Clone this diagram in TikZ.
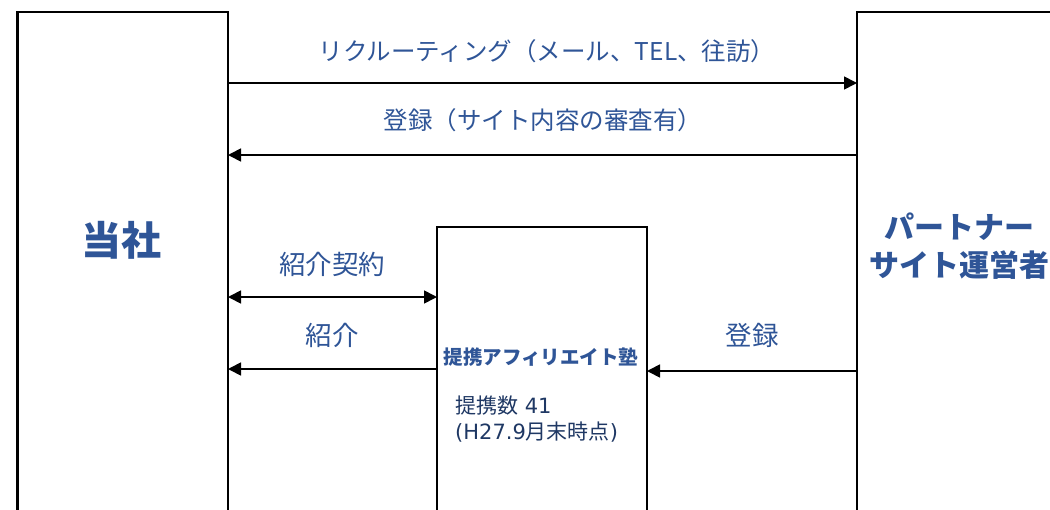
\documentclass[tikz,border=0pt]{standalone}
\usepackage{fontspec}
\setmainfont{Noto Sans CJK JP}
\newfontfamily\lat{DejaVu Sans}
\usetikzlibrary{arrows.meta}
\definecolor{txtblue}{HTML}{2F5597}
\definecolor{darkblue}{HTML}{1F3864}
\begin{document}
\begin{tikzpicture}[x=1pt,y=-1pt,
  box/.style={draw=black,line width=2.8pt,fill=white},
  conn/.style={line width=1.7pt,-{Triangle[length=13pt,width=13pt]}},
  lbl/.style={text=txtblue,font=\fontsize{24.5}{28}\selectfont,inner sep=0pt},
  slbl/.style={text=txtblue,font=\fontsize{26.5}{30}\selectfont,inner sep=0pt},
  ttl/.style={text=txtblue,inner sep=0pt,align=center}]
\useasboundingbox (0,0) rectangle (1050,509);
\begin{scope}
\clip (0,0) rectangle (1050,509);
\draw[box] (17.5,12) rectangle (228,540);
\draw[box] (857,12) rectangle (1067,540);
\draw[box] (437,227) rectangle (647,540);
\coordinate (Ltop) at (228,83);
\coordinate (Rtop) at (857,83);
\coordinate (Ltwo) at (228,155);
\coordinate (Rtwo) at (857,155);
\coordinate (Lthr) at (228,297);
\coordinate (Mthr) at (437,297);
\coordinate (Lfour) at (228,369);
\coordinate (Mfour) at (437,369);
\coordinate (Mfive) at (647,371);
\coordinate (Rfive) at (857,371);
\draw[conn] (Ltop) -- (Rtop);
\draw[conn] (Rtwo) -- (Ltwo);
\draw[conn,{Triangle[length=13pt,width=13pt]}-{Triangle[length=13pt,width=13pt]}] (Lthr) -- (Mthr);
\draw[conn] (Mfour) -- (Lfour);
\draw[conn] (Rfive) -- (Mfive);
\end{scope}
\node[lbl] (t1) at (547,51) {リクルーティング（メール、TEL、往訪）};
\node[lbl] (t2) at (543,120) {登録（サイト内容の審査有）};
\node[slbl] (t3) at (332,264) {紹介契約};
\node[slbl] (t4) at (332,335) {紹介};
\node[slbl] (t5) at (752,335) {登録};
\node[ttl,font=\bfseries\fontsize{40}{42}\selectfont] (company) at (121,240) {当社};
\node[ttl,font=\bfseries\fontsize{30}{38.5}\selectfont] (partner) at (959,246) {パートナー\\サイト運営者};
\node[ttl,font=\bfseries\fontsize{19.5}{21}\selectfont] (juku) at (541,357) {提携アフィリエイト塾};
\node[text=darkblue,font=\fontsize{21}{26}\selectfont,align=left,anchor=north west,inner sep=0pt] (num) at (455,396) {提携数{\lat\ 41}\\{\lat(H27.9}月末時点{\lat)}};
\end{tikzpicture}
\end{document}
